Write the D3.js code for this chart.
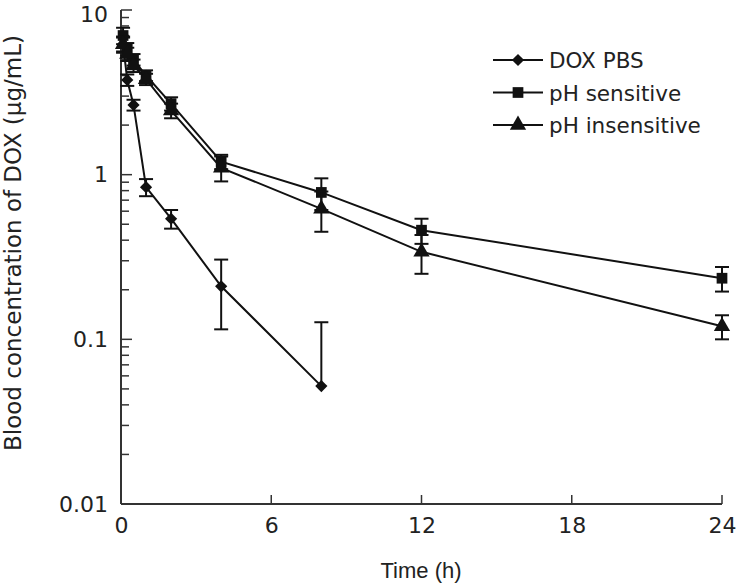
<!DOCTYPE html>
<html><head><meta charset="utf-8">
<script src="https://cdn.jsdelivr.net/npm/d3@7"></script>
<style>body{margin:0;background:#fff}svg{display:block}text{font-family:"DejaVu Sans",sans-serif;fill:#222}</style>
</head><body><svg id="c" width="740" height="585"></svg>
<script>
const times = [0.083, 0.25, 0.5, 1, 2, 4, 8, 12, 24];
const timesPBS = [0.083, 0.25, 0.5, 1, 2, 4, 8];
const seriesNames = ["DOX PBS", "pH sensitive", "pH insensitive"];
const doxPBS = [6.2, 3.76, 2.65, 0.84, 0.54, 0.21, 0.052];
const doxPBSErr = [0.6, 0.3, 0.2, 0.1, 0.07, 0.095, 0.075];
const phSens = [7.0, 5.8, 5.0, 4.0, 2.7, 1.2, 0.78, 0.46, 0.235];
const phSensErr = [0.8, 0.5, 0.4, 0.3, 0.25, 0.12, 0.17, 0.08, 0.04];
const phInsens = [6.2, 5.4, 4.6, 3.8, 2.45, 1.1, 0.62, 0.34, 0.12];
const phInsensErr = [0.7, 0.5, 0.4, 0.3, 0.25, 0.19, 0.17, 0.09, 0.02];
const xTicks = [0, 6, 12, 18, 24];
const yTicks = [0.01, 0.1, 1, 10];
const yTickLabels = ["0.01", "0.1", "1", "10"];

const svg = d3.select("#c");
const x = d3.scaleLinear().domain([0, 24]).range([121, 722]);
const y = d3.scaleLog().domain([0.01, 10]).range([504, 10]);
const stroke = "#111";

const series = [
  {name: seriesNames[0], t: timesPBS, v: doxPBS, e: doxPBSErr, sym: d3.symbolDiamond2, size: 95},
  {name: seriesNames[1], t: times, v: phSens, e: phSensErr, sym: d3.symbolSquare, size: 115},
  {name: seriesNames[2], t: times, v: phInsens, e: phInsensErr, sym: d3.symbolTriangle, size: 115}
];

// axes
const yAxis = d3.axisLeft(y).tickValues(yTicks).tickFormat((d,i)=>yTickLabels[i]).tickSize(0).tickPadding(13);
const gy = svg.append("g").attr("transform","translate(121,0)").call(yAxis);
gy.select(".domain").remove();
gy.selectAll("text").style("font-size","22px").style("font-family","'DejaVu Sans',sans-serif").attr("fill","#222");
gy.selectAll(".tick").filter(d=>d===10).select("text").attr("y",4);
svg.append("line").attr("x1",121).attr("x2",121).attr("y1",10).attr("y2",504).attr("stroke","#333").attr("stroke-width",2);
const minor = [];
for (let p=-2;p<1;p++) for (let k=2;k<=9;k++) minor.push(k*Math.pow(10,p));
svg.append("g").selectAll("line").data(minor).join("line")
  .attr("x1",121).attr("x2",129).attr("y1",d=>y(d)).attr("y2",d=>y(d)).attr("stroke","#333").attr("stroke-width",1.5);
svg.append("g").selectAll("line").data(yTicks).join("line")
  .attr("x1",121).attr("x2",132).attr("y1",d=>y(d)).attr("y2",d=>y(d)).attr("stroke","#333").attr("stroke-width",1.5);

const xAxis = d3.axisBottom(x).tickValues(xTicks).tickFormat(d3.format("d")).tickSize(0).tickPadding(13);
const gx = svg.append("g").attr("transform","translate(0,504)").call(xAxis);
gx.select(".domain").remove();
gx.selectAll("text").style("font-size","22px").style("font-family","'DejaVu Sans',sans-serif").attr("fill","#222");
svg.append("line").attr("x1",121).attr("x2",722).attr("y1",504).attr("y2",504).attr("stroke","#333").attr("stroke-width",2);
svg.append("g").selectAll("line").data(xTicks.filter(d=>d>0)).join("line")
  .attr("x1",d=>x(d)).attr("x2",d=>x(d)).attr("y1",504).attr("y2",495).attr("stroke","#333").attr("stroke-width",1.5);

svg.append("text").attr("x",421).attr("y",578).attr("text-anchor","middle")
  .style("font-family","'Liberation Sans',Arial,sans-serif").style("font-size","22px").text("Time (h)");
svg.append("text").attr("transform","translate(21,243) rotate(-90)").attr("text-anchor","middle")
  .style("font-size","23px").text("Blood concentration of DOX (μg/mL)");

// data
const line = d3.line().x(d=>x(d[0])).y(d=>y(d[1]));
series.forEach(s=>{
  const pts = s.t.map((t,i)=>[t,s.v[i],s.e[i]]);
  const g = svg.append("g");
  g.append("path").attr("d",line(pts)).attr("fill","none").attr("stroke",stroke).attr("stroke-width",2);
  pts.forEach(p=>{
    const cx = x(p[0]);
    const hi = p[1]+p[2], lo = p[1]-p[2];
    const yHi = y(hi), yLo = lo>0 ? y(lo) : y(p[1]);
    g.append("line").attr("x1",cx).attr("x2",cx).attr("y1",yHi).attr("y2",yLo).attr("stroke",stroke).attr("stroke-width",2);
    g.append("line").attr("x1",cx-7).attr("x2",cx+7).attr("y1",yHi).attr("y2",yHi).attr("stroke",stroke).attr("stroke-width",2);
    if (lo>0) g.append("line").attr("x1",cx-7).attr("x2",cx+7).attr("y1",yLo).attr("y2",yLo).attr("stroke",stroke).attr("stroke-width",2);
  });
  g.selectAll("path.m").data(pts).join("path")
    .attr("transform",d=>`translate(${x(d[0])},${y(d[1])})`)
    .attr("d",d3.symbol(s.sym, s.size)).attr("fill",stroke);
});

// legend
const lg = svg.append("g");
series.forEach((s,i)=>{
  const ly = 60 + i*32.5;
  lg.append("line").attr("x1",493).attr("x2",543).attr("y1",ly).attr("y2",ly).attr("stroke",stroke).attr("stroke-width",2);
  lg.append("path").attr("transform",`translate(518,${ly})`).attr("d",d3.symbol(s.sym,s.size)).attr("fill",stroke);
  lg.append("text").attr("x",549).attr("y",ly+8).style("font-size","21.5px").text(s.name);
});
</script></body></html>
